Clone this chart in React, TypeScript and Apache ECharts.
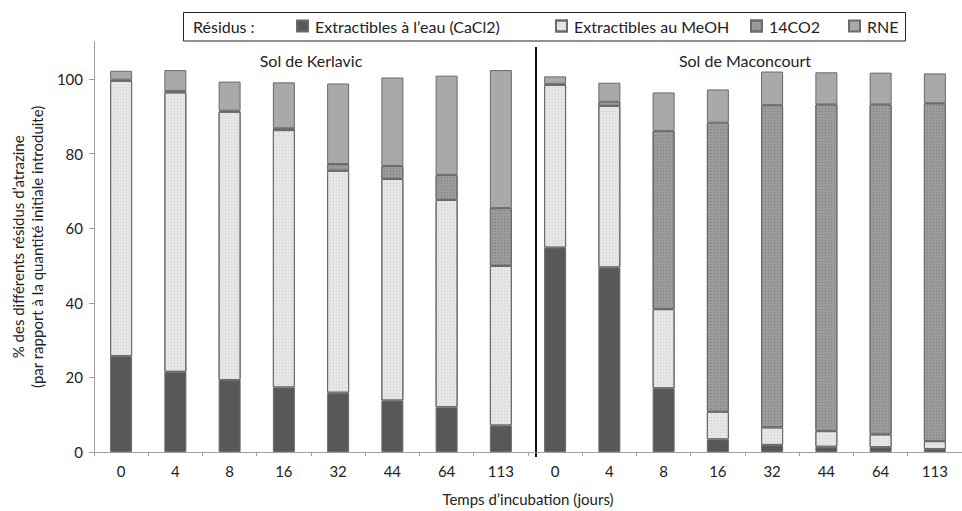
import React, { useEffect, useRef } from "react";
import * as echarts from "echarts";

const days = ["0", "4", "8", "16", "32", "44", "64", "113"];
const categories = [...days, ...days];
const yTicks = [0, 20, 40, 60, 80, 100];

const seriesNames = ["Extractibles à l’eau (CaCl2)", "Extractibles au MeOH", "14CO2", "RNE"];

const waterKerlavic = [25.7, 21.5, 19.3, 17.3, 15.9, 13.8, 12.0, 7.1];
const waterMaconcourt = [54.8, 49.5, 17.1, 3.4, 1.9, 1.4, 1.3, 0.8];
const meohKerlavic = [73.8, 74.9, 71.9, 69.0, 59.5, 59.4, 55.6, 42.8];
const meohMaconcourt = [43.6, 43.3, 21.2, 7.4, 4.7, 4.2, 3.4, 2.1];
const co2Kerlavic = [0.3, 0.4, 0.3, 0.5, 1.8, 3.5, 6.7, 15.5];
const co2Maconcourt = [0.3, 1.1, 47.8, 77.5, 86.4, 87.6, 88.5, 90.6];
const rneKerlavic = [2.4, 5.6, 7.8, 12.3, 21.6, 23.7, 26.6, 37.0];
const rneMaconcourt = [2.0, 5.1, 10.3, 8.9, 9.0, 8.6, 8.5, 8.0];

const FONT = "Lato";

export default function App() {
  const ref = useRef<HTMLDivElement>(null);
  useEffect(() => {
    if (!ref.current) return;
    const chart = echarts.init(ref.current, null, { renderer: "svg" });
    const colors = ["#58585a", "#e6e6e6", "#9b9b9b", "#a9a9ab"];
    const decals: any[] = [
      null,
      { symbol: "rect", symbolSize: 1, dashArrayX: [1, 2], dashArrayY: [1, 2], color: "rgba(150,150,150,0.3)" },
      { symbol: "rect", symbolSize: 1, dashArrayX: [1, 2], dashArrayY: [1, 2], color: "rgba(70,70,70,0.35)" },
      null,
    ];
    const dataSets = [
      [...waterKerlavic, ...waterMaconcourt],
      [...meohKerlavic, ...meohMaconcourt],
      [...co2Kerlavic, ...co2Maconcourt],
      [...rneKerlavic, ...rneMaconcourt],
    ];
    const legendLefts = [296, 555, 750, 848];
    chart.setOption({
      animation: false,
      textStyle: { fontFamily: FONT },
      grid: { left: 84, right: -13, top: 41.7, bottom: 59, containLabel: false },
      legend: seriesNames.map((n, i) => ({
        data: [n],
        left: legendLefts[i],
        top: 18,
        padding: 0,
        icon: "rect",
        itemWidth: 11,
        itemHeight: 11,
        itemGap: 0,
        textStyle: { fontFamily: FONT, fontSize: 16, color: "#222", padding: [0, 0, 0, 2] },
        selectedMode: false,
      })),
      xAxis: {
        type: "category",
        data: categories,
        name: "Temps d’incubation (jours)",
        nameLocation: "middle",
        nameGap: 39,
        nameTextStyle: { fontFamily: FONT, fontSize: 15, color: "#222" },
        axisLine: { lineStyle: { color: "#a0a0a0", width: 1 } },
        axisTick: { show: true, length: 4, lineStyle: { color: "#a0a0a0" } },
        axisLabel: { interval: 0, margin: 11, fontFamily: FONT, fontSize: 15, color: "#222" },
      },
      yAxis: {
        type: "value",
        min: 0,
        max: 110,
        interval: 20,
        name: "% des différents résidus d’atrazine\n(par rapport à la quantité initiale introduite)",
        nameLocation: "middle",
        nameGap: 40,
        nameTextStyle: { fontFamily: FONT, fontSize: 15, color: "#222", lineHeight: 19 },
        axisLine: { show: true, lineStyle: { color: "#a0a0a0", width: 1 } },
        axisTick: { show: true, length: 5, customValues: yTicks, lineStyle: { color: "#a0a0a0" } },
        axisLabel: { customValues: yTicks, margin: 11, fontFamily: FONT, fontSize: 15, color: "#222" },
        splitLine: { show: false },
      },
      series: dataSets.map((d, i) => ({
        name: seriesNames[i],
        type: "bar",
        stack: "total",
        barWidth: 22,
        data: d,
        itemStyle: {
          color: colors[i],
          borderColor: "#6a6a6a",
          borderWidth: 1,
          ...(decals[i] ? { decal: decals[i] } : {}),
        },
      })),
      graphic: [
        {
          type: "rect",
          shape: { x: 183.5, y: 12.5, width: 722, height: 28.5 },
          style: { fill: "none", stroke: "#222", lineWidth: 1 },
          silent: true,
        },
        {
          type: "text",
          x: 193,
          y: 26.5,
          style: { text: "Résidus :", font: `16px ${FONT}`, fill: "#222", verticalAlign: "middle" },
        },
        {
          type: "text",
          x: 311,
          y: 60,
          style: { text: "Sol de Kerlavic", font: `16px ${FONT}`, fill: "#222", align: "center", verticalAlign: "middle" },
        },
        {
          type: "text",
          x: 745,
          y: 60,
          style: { text: "Sol de Maconcourt", font: `16px ${FONT}`, fill: "#222", align: "center", verticalAlign: "middle" },
        },
        {
          type: "line",
          shape: { x1: 536, y1: 47, x2: 536, y2: 457 },
          style: { stroke: "#111", lineWidth: 2 },
        },
      ],
    });
    return () => chart.dispose();
  }, []);
  return (
    <div
      ref={ref}
      style={{ position: "fixed", left: 0, top: 0, width: 962, height: 511, background: "#fff" }}
    />
  );
}
